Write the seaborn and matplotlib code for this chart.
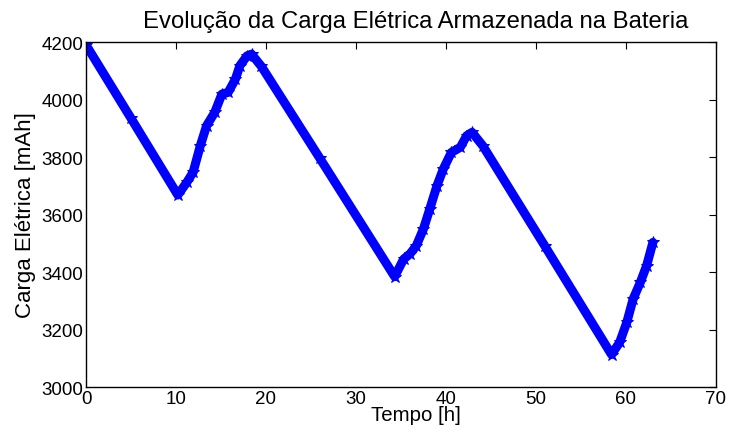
import matplotlib
matplotlib.use("Agg")
import matplotlib.pyplot as plt
import seaborn as sns
import pandas as pd

# values (hours, mAh)
tempo = [0.0, 5.0, 10.2, 11.2, 11.9, 12.7, 13.4, 14.3, 15.1, 15.8, 16.6, 17.1,
         17.9, 18.4, 19.5, 26.0, 34.3, 35.3, 36.0, 36.7, 37.5, 38.2, 39.0,
         39.7, 40.6, 41.6, 42.3, 42.9, 44.1, 51.0, 58.4, 59.3, 60.1, 60.8,
         61.6, 62.3, 63.0]
carga = [4190, 3935, 3668, 3712, 3747, 3839, 3909, 3955, 4019, 4025, 4071, 4118,
         4152, 4158, 4115, 3795, 3384, 3445, 3463, 3491, 3550, 3619, 3700,
         3758, 3816, 3834, 3874, 3886, 3839, 3490, 3113, 3155, 3225, 3306,
         3364, 3422, 3503]

df = pd.DataFrame({'tempo': tempo, 'carga': carga})

sns.set_theme(style="white")
plt.rcParams['font.family'] = ['Liberation Sans', 'DejaVu Sans']
plt.rcParams['text.color'] = 'black'
plt.rcParams['axes.labelcolor'] = 'black'

fig = plt.figure(figsize=(7.32, 4.35), dpi=100)
ax = fig.add_axes([0.1175, 0.108, 0.8605, 0.793])

sns.lineplot(x='tempo', y='carga', data=df, sort=False, color='blue',
             linewidth=6.5, marker='*', markersize=9, markeredgecolor='blue',
             ax=ax)

ax.set_xlim(0, 70)
ax.set_ylim(3000, 4200)
ax.set_xticks(range(0, 71, 10))
ax.set_yticks(range(3000, 4201, 200))
ax.tick_params(direction='in', length=5, width=0.8, top=True, right=True,
               labelsize=13.5, colors='black', pad=2)
for s in ax.spines.values():
    s.set_color('black')
    s.set_linewidth(1.0)

ax.set_title('Evolução da Carga Elétrica Armazenada na Bateria', fontsize=17.2,
             pad=11, color='black', x=0.524)
ax.set_xlabel('Tempo [h]', fontsize=14.7, labelpad=-1, x=0.524)
ax.set_ylabel('Carga Elétrica [mAh]', fontsize=16, labelpad=4)

plt.savefig('out.png', dpi=100)
